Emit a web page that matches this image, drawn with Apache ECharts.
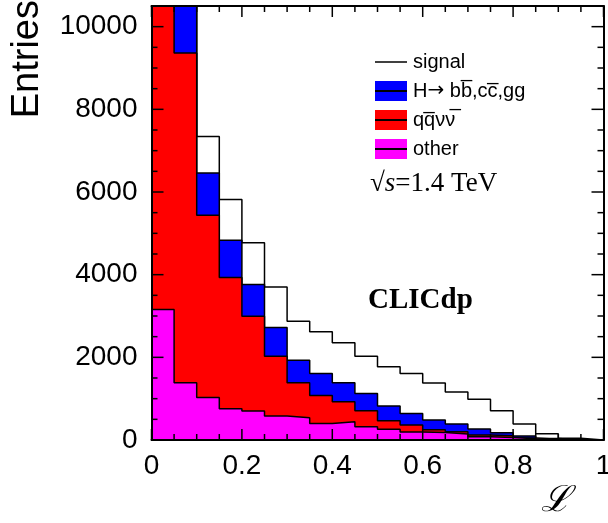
<!DOCTYPE html>
<html>
<head>
<meta charset="utf-8">
<script src="https://cdn.jsdelivr.net/npm/echarts@6/dist/echarts.min.js"></script>
<style>
html,body{margin:0;padding:0;background:#fff;}
#chart{width:608px;height:523px;}
</style>
</head>
<body>
<div id="chart"></div>
<script>
// bin left edges (bin width 0.05)
var binEdges = [0,0.05,0.1,0.15,0.2,0.25,0.3,0.35,0.4,0.45,0.5,0.55,0.6,0.65,0.7,0.75,0.8,0.85,0.9,0.95];
var binWidth = 0.05;
// per-component entries (stacked in this order: other, qqvv, H, signal)
var otherVals  = [3157,1384,1031,756,700,580,539,402,443,322,258,193,180,145,80,60,30,10,0,0];
var qqvvVals   = [10343,7980,4404,3173,2295,1449,846,677,483,387,209,169,70,56,41,40,20,10,0,0];
var hbbVals    = [1500,1636,1022,902,765,693,547,531,459,418,354,282,233,185,145,77,47,15,5,0];
var signalVals = [1500,1500,886,990,1015,981,942,1007,966,902,950,966,897,773,717,532,293,115,35,0];
// axis ticks
var xMajorTicks = [0,0.2,0.4,0.6,0.8,1];
var xMinorTicks = [0.05,0.1,0.15,0.25,0.3,0.35,0.45,0.5,0.55,0.65,0.7,0.75,0.85,0.9,0.95];
var yMajorTicks = [0,2000,4000,6000,8000,10000];
var yMinorTicks = [500,1000,1500,2500,3000,3500,4500,5000,5500,6500,7000,7500,8500,9000,9500];
var yMax = 10500;

var CW = 608, CH = 523;
var gridBox = {left:151.5, right:4.5, top:6, bottom:83};

var layers = [
  {name:'other', vals:otherVals, color:'#ff00ff'},
  {name:'qqvv', vals:qqvvVals, color:'#ff0000'},
  {name:'hbb', vals:hbbVals, color:'#0000ff'},
  {name:'signal', vals:signalVals, color:'#ffffff'}
];
var cum = binEdges.map(function(){return 0;});
layers.forEach(function(L){
  L.cum = L.vals.map(function(v,i){ cum[i] += v; return cum[i]; });
});
function stepData(c){
  var d = binEdges.map(function(x,i){ return [x, c[i]]; });
  d.push([binEdges[binEdges.length-1]+binWidth, c[c.length-1]]);
  return d;
}
var series = [];
// draw top of stack first, lower layers drawn over it (ROOT THStack style)
for (var k = layers.length-1; k >= 0; k--) {
  var L = layers[k];
  series.push({
    name: L.name, type:'line', step:'end', showSymbol:false, symbol:'none',
    data: stepData(L.cum), z: 2 + (layers.length-1-k), clip:true,
    lineStyle:{color:'#000', width:1.5},
    areaStyle:{color:L.color, opacity:1},
    animation:false, silent:true
  });
}

// frame ticks (inside, all four sides)
var pxL = gridBox.left, pxR = CW - gridBox.right, pxT = gridBox.top, pxB = CH - gridBox.bottom;
function mapX(v){ return pxL + (v - 0) / (1 - 0) * (pxR - pxL); }
function mapY(v){ return pxB - (v - 0) / (yMax - 0) * (pxB - pxT); }
var tickGraphics = [];
function tickLine(x1, y1, x2, y2){
  return {type:'line', z:40, silent:true, shape:{x1:x1, y1:y1, x2:x2, y2:y2}, style:{stroke:'#000', lineWidth:1.5}};
}
function addX(v, len){
  var x = mapX(v);
  tickGraphics.push(tickLine(x, pxB, x, pxB - len));
  tickGraphics.push(tickLine(x, pxT, x, pxT + len));
}
function addY(v, len){
  var y = mapY(v);
  tickGraphics.push(tickLine(pxL, y, pxL + len, y));
  tickGraphics.push(tickLine(pxR, y, pxR - len, y));
}
xMajorTicks.forEach(function(v){ addX(v, 11); });
xMinorTicks.forEach(function(v){ addX(v, 6); });
yMajorTicks.forEach(function(v){ addY(v, 12); });
yMinorTicks.forEach(function(v){ addY(v, 6); });

function axLine(){ return {show:true, onZero:false, lineStyle:{color:'#000', width:2}}; }
var staticGraphics = [
    {type:'text', x:28, y:0, rotation:Math.PI/2, z:20,
      style:{text:'Entries', fill:'#000', font:'38px "Liberation Sans", Arial, sans-serif', align:'right', verticalAlign:'middle'}},
    {type:'text', x:556, y:502, z:20,
      style:{text:'\u2112', fill:'#000', font:'italic 36px "DejaVu Serif", serif', align:'center', verticalAlign:'middle'}},
    // legend
    {type:'line', z:20, shape:{x1:375, y1:62, x2:407, y2:62}, style:{stroke:'#000', lineWidth:1.5}},
    {type:'text', x:413, y:62, z:20, style:{text:'signal', fill:'#000', font:'20px "Liberation Sans", Arial, sans-serif', verticalAlign:'middle'}},
    {type:'rect', z:20, shape:{x:375, y:81, width:32, height:20}, style:{fill:'#0000ff'}},
    {type:'line', z:21, shape:{x1:375, y1:91, x2:407, y2:91}, style:{stroke:'#000', lineWidth:2}},
    {type:'text', x:413, y:91, z:20, style:{
      text:'{a|H}{b|\u2192}{a| bb\u0305,cc\u0305,gg}', verticalAlign:'middle',
      rich:{
        a:{fill:'#000', font:'20px "Liberation Sans", Arial, sans-serif'},
        b:{fill:'#000', font:'20px "DejaVu Sans", sans-serif'}
      }}},
    {type:'rect', z:20, shape:{x:375, y:110, width:32, height:20}, style:{fill:'#ff0000'}},
    {type:'line', z:21, shape:{x1:375, y1:120, x2:407, y2:120}, style:{stroke:'#000', lineWidth:2}},
    {type:'text', x:413, y:120, z:20, style:{text:'qq\u0305\u03bd\u03bd\u0305', fill:'#000', font:'20px "Liberation Sans", Arial, sans-serif', verticalAlign:'middle'}},
    {type:'rect', z:20, shape:{x:375, y:139, width:32, height:20}, style:{fill:'#ff00ff'}},
    {type:'line', z:21, shape:{x1:375, y1:149, x2:407, y2:149}, style:{stroke:'#000', lineWidth:2}},
    {type:'text', x:413, y:149, z:20, style:{text:'other', fill:'#000', font:'20px "Liberation Sans", Arial, sans-serif', verticalAlign:'middle'}},
    {type:'text', x:370, y:184, z:20, style:{
      text:'{r|\u221a}{s|s}{t|=1.4 TeV}', verticalAlign:'middle',
      rich:{
        r:{fill:'#000', font:'27px "Liberation Serif", "Times New Roman", serif'},
        s:{fill:'#000', font:'italic 27px "Liberation Serif", "Times New Roman", serif'},
        t:{fill:'#000', font:'27px "Liberation Serif", "Times New Roman", serif'}
      }}},
    {type:'text', x:368, y:286, z:20, style:{text:'CLICdp', fill:'#000', font:'bold 29px "Liberation Serif", "Times New Roman", serif', verticalAlign:'alphabetic'}}
];

var chart = echarts.init(document.getElementById('chart'));
chart.setOption({
  animation:false,
  backgroundColor:'#fff',
  grid:{left:gridBox.left, right:gridBox.right, top:gridBox.top, bottom:gridBox.bottom, containLabel:false, outerBoundsMode:'none'},
  xAxis:[
    {type:'value', min:xMajorTicks[0], max:xMajorTicks[xMajorTicks.length-1], interval:0.2, position:'bottom', z:30,
      axisLine:axLine(), splitLine:{show:false}, axisTick:{show:false}, minorTick:{show:false},
      axisLabel:{color:'#000', fontSize:28, fontFamily:'Liberation Sans, Arial, sans-serif', margin:12,
        formatter:function(v){return String(Math.round(v*10)/10);}}},
    {type:'value', min:0, max:1, interval:0.2, position:'top', z:30,
      axisLine:axLine(), splitLine:{show:false}, axisTick:{show:false}, minorTick:{show:false},
      axisLabel:{show:false}}
  ],
  yAxis:[
    {type:'value', min:yMajorTicks[0], max:yMax, interval:2000, position:'left', z:30,
      axisLine:axLine(), splitLine:{show:false}, axisTick:{show:false}, minorTick:{show:false},
      axisLabel:{color:'#000', fontSize:28, fontFamily:'Liberation Sans, Arial, sans-serif', margin:14,
        showMaxLabel:false, formatter:function(v){return String(v);}}},
    {type:'value', min:0, max:yMax, interval:2000, position:'right', z:30,
      axisLine:axLine(), splitLine:{show:false}, axisTick:{show:false}, minorTick:{show:false},
      axisLabel:{show:false}}
  ],
  series: series,
  graphic: staticGraphics.concat(tickGraphics)
});
</script>
</body>
</html>
